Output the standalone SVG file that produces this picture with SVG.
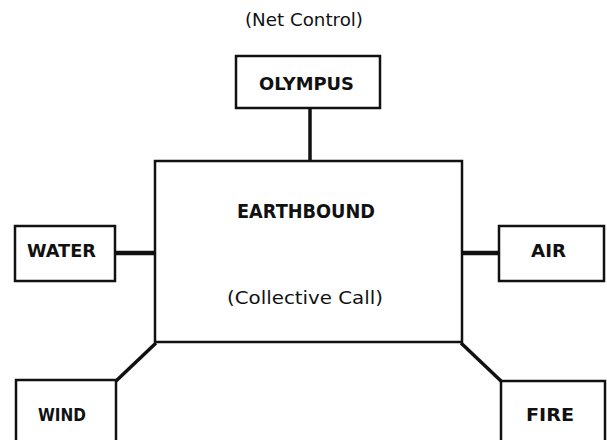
<svg xmlns="http://www.w3.org/2000/svg" width="607" height="440" viewBox="0 0 607 440">
<style>
.box{fill:#fff;stroke:#111;stroke-width:2.5}
.lbl{font-family:"DejaVu Sans","Liberation Sans",sans-serif;font-weight:bold;font-size:18.5px;fill:#111}
.sub{font-family:"DejaVu Sans","Liberation Sans",sans-serif;font-size:18px;fill:#111}
.con{stroke:#111;fill:none;stroke-linecap:butt}
</style>
<rect width="607" height="440" fill="#fff"/>
<text class="sub" x="245" y="26" textLength="118" lengthAdjust="spacingAndGlyphs">(Net Control)</text>
<g id="connectors">
<line class="con" x1="310" y1="108" x2="310" y2="161" stroke-width="3.5"/>
<line class="con" x1="115" y1="253" x2="155" y2="253" stroke-width="4.5"/>
<line class="con" x1="462" y1="253" x2="499" y2="253" stroke-width="4.5"/>
<line class="con" x1="116" y1="381" x2="156" y2="343" stroke-width="3.5"/>
<line class="con" x1="461" y1="343" x2="501" y2="381" stroke-width="3.5"/>
</g>
<g id="olympus">
<rect class="box" x="236" y="56" width="144" height="52"/>
<text class="lbl" x="259" y="90" textLength="95" lengthAdjust="spacingAndGlyphs">OLYMPUS</text>
</g>
<g id="earthbound">
<rect class="box" x="155" y="161" width="307" height="181"/>
<text class="lbl" x="237" y="218" textLength="138" lengthAdjust="spacingAndGlyphs" style="font-size:19px">EARTHBOUND</text>
<text class="sub" x="227" y="304" textLength="156" lengthAdjust="spacingAndGlyphs">(Collective Call)</text>
</g>
<g id="water">
<rect class="box" x="15" y="226" width="100" height="55"/>
<text class="lbl" x="27" y="257" textLength="69" lengthAdjust="spacingAndGlyphs" style="font-size:18px">WATER</text>
</g>
<g id="air">
<rect class="box" x="499" y="226" width="105" height="55"/>
<text class="lbl" x="531" y="257" textLength="35" lengthAdjust="spacingAndGlyphs" style="font-size:18px">AIR</text>
</g>
<g id="wind">
<rect class="box" x="16" y="380" width="100" height="70"/>
<text class="lbl" x="38" y="421" textLength="48" lengthAdjust="spacingAndGlyphs">WIND</text>
</g>
<g id="fire">
<rect class="box" x="501" y="381" width="104" height="70"/>
<text class="lbl" x="526" y="421" textLength="48" lengthAdjust="spacingAndGlyphs">FIRE</text>
</g>
</svg>
